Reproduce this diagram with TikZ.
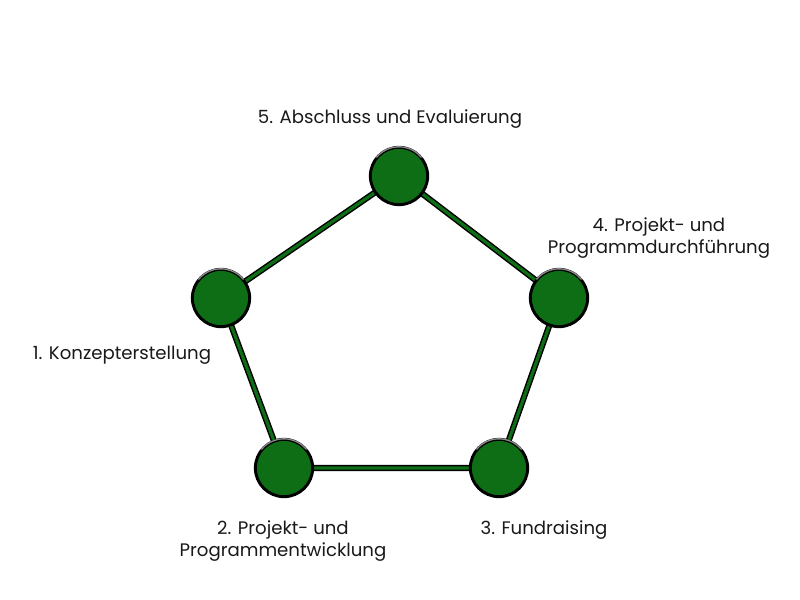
\documentclass[tikz,border=0pt]{standalone}
\usepackage{fontspec}
\setmainfont{Poppins}
\definecolor{stagegreen}{HTML}{0E6E16}
\definecolor{rimgray}{HTML}{8A8A8A}
\tikzset{
  stage/.style={circle,minimum size=43pt,inner sep=0pt,fill=stagegreen,draw=black,line width=2.2pt},
  rim/.style={rimgray,line width=1pt,line cap=round},
  link/.style={draw=black,line width=1.1pt,double=stagegreen,double distance=2.4pt},
  label/.style={font=\fontsize{13.6}{16}\selectfont,align=center,text=black!90}
}
\begin{document}
\begin{tikzpicture}[x=0.75pt,y=-0.75pt]

% Define the canvas
\useasboundingbox (0,0) rectangle (800,600);
\fill[white] (0,0) rectangle (800,600);

% Place the stages of the cycle
\coordinate (p1) at (221,298);
\coordinate (p2) at (284,468);
\coordinate (p3) at (499,468);
\coordinate (p4) at (559,298);
\coordinate (p5) at (399,176);

% Draw the ring of links
\draw[link] (p1) -- (p2) -- (p3) -- (p4) -- (p5) -- cycle;

% Draw the stage circles with a light rim on top
\foreach \i in {1,...,5} {
  \node[stage] (n\i) at (p\i) {};
  \draw[rim] ([shift={(140:21.9pt)}]n\i.center) arc[start angle=140,end angle=40,radius=21.9pt];
}

% Label the stages
\node[label] (t1) at (122,355) {1. Konzepterstellung};
\node[label] (t2) at (283,541) {2. Projekt- und\\Programmentwicklung};
\node[label] (t3) at (544,530) {3. Fundraising};
\node[label] (t4) at (659,238) {4. Projekt- und\\Programmdurchführung};
\node[label] (t5) at (390,119) {5. Abschluss und Evaluierung};

\end{tikzpicture}
\end{document}
